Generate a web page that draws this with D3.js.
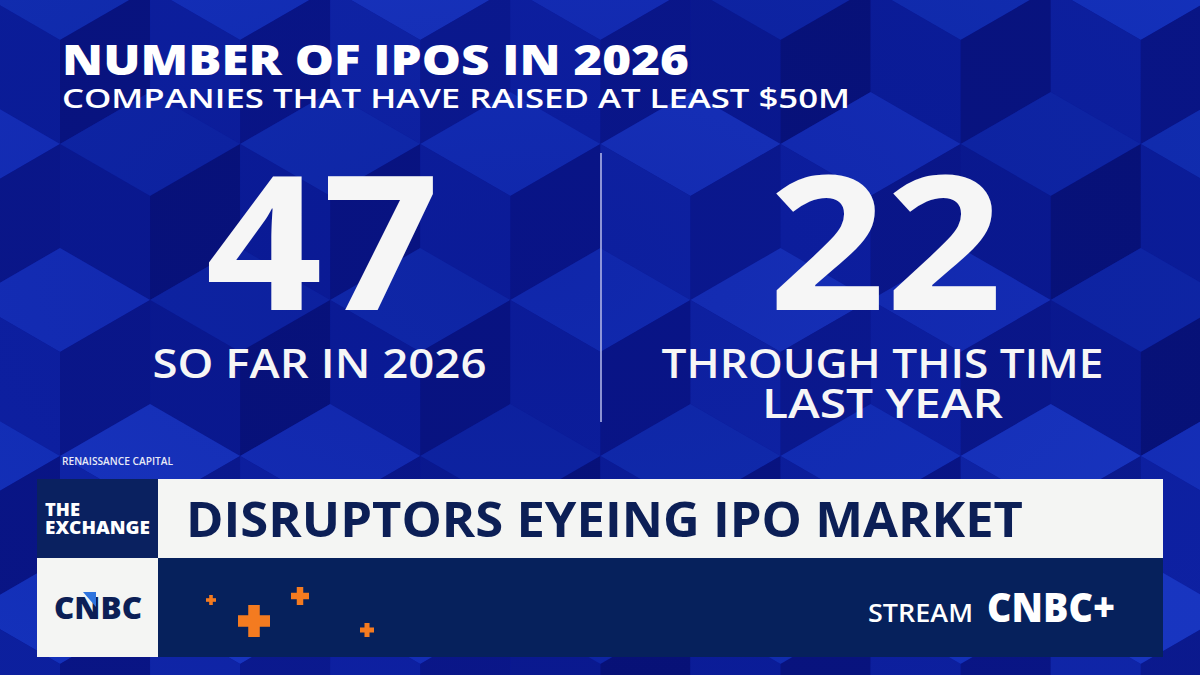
<!DOCTYPE html>
<html>
<head>
<meta charset="utf-8">
<script src="https://cdn.jsdelivr.net/npm/d3@7"></script>
<style>
  html, body { margin: 0; padding: 0; background: #0b1a9c; overflow: hidden; }
  svg { display: block; }
</style>
</head>
<body>
<svg id="chart" width="1200" height="675"></svg>
<script>
// ---------- DATA ----------
const categories = ["SO FAR IN 2026", "THROUGH THIS TIME LAST YEAR"];
const values = [47, 22];
const labelLines = [["SO FAR IN 2026"], ["THROUGH THIS TIME", "LAST YEAR"]];
const title = "NUMBER OF IPOS IN 2026";
const subtitle = "COMPANIES THAT HAVE RAISED AT LEAST $50M";
const source = "RENAISSANCE CAPITAL";
const showName = ["THE", "EXCHANGE"];
const headline = "DISRUPTORS EYEING IPO MARKET";

// ---------- SETUP ----------
const W = 1200, H = 675;
const svg = d3.select("#chart");
const FONT = "'Open Sans', 'Noto Sans', sans-serif";

function fitText(sel, width) {
  sel.attr("textLength", width).attr("lengthAdjust", "spacingAndGlyphs");
  return sel;
}

// ---------- BACKGROUND (decorative isometric cubes) ----------
const defs = svg.append("defs");
const bgGrad = defs.append("linearGradient").attr("id", "bg").attr("x1", 0).attr("y1", 0).attr("x2", 1).attr("y2", 1);
bgGrad.append("stop").attr("offset", "0%").attr("stop-color", "#0c1ea6");
bgGrad.append("stop").attr("offset", "50%").attr("stop-color", "#0a1896");
bgGrad.append("stop").attr("offset", "100%").attr("stop-color", "#0d22ad");
svg.append("rect").attr("width", W).attr("height", H).attr("fill", "url(#bg)");

const S = 104, hw = S * Math.sqrt(3) / 2;
const cubes = [];
for (let r = -1; r < 7; r++) {
  for (let c = -1; c < 8; c++) {
    const cx = c * 2 * hw + (r % 2 ? hw : 0) + 60;
    const cy = r * 1.5 * S + 40;
    const k = ((r * 7 + c * 3 + 11) % 5 + 5) % 5; // deterministic shade index
    cubes.push({cx, cy, k});
  }
}
const topC = ["#1632bd", "#1230b4", "#1a39c6", "#0f28a8", "#1534bf"];
const leftC = ["#0e22a4", "#0b1e9a", "#1027aa", "#0a1a90", "#0d21a0"];
const rightC = ["#0a1788", "#08137c", "#0b1a8e", "#071174", "#091584"];
const cubeG = svg.append("g");
cubes.forEach(d => {
  const {cx, cy, k} = d;
  const top = [[cx, cy - S], [cx + hw, cy - S / 2], [cx, cy], [cx - hw, cy - S / 2]];
  const left = [[cx - hw, cy - S / 2], [cx, cy], [cx, cy + S], [cx - hw, cy + S / 2]];
  const right = [[cx, cy], [cx + hw, cy - S / 2], [cx + hw, cy + S / 2], [cx, cy + S]];
  cubeG.append("polygon").attr("points", top.join(" ")).attr("fill", topC[k]);
  cubeG.append("polygon").attr("points", left.join(" ")).attr("fill", leftC[k]);
  cubeG.append("polygon").attr("points", right.join(" ")).attr("fill", rightC[k]);
});
const ov = defs.append("radialGradient").attr("id", "ov").attr("cx", "45%").attr("cy", "40%").attr("r", "70%");
ov.append("stop").attr("offset", "0%").attr("stop-color", "#08128a").attr("stop-opacity", 0.4);
ov.append("stop").attr("offset", "100%").attr("stop-color", "#08128a").attr("stop-opacity", 0.1);
svg.append("rect").attr("width", W).attr("height", H).attr("fill", "url(#ov)");

// ---------- TITLES ----------
fitText(svg.append("text").attr("x", 62).attr("y", 75)
  .attr("font-family", FONT).attr("font-weight", 800).attr("font-size", 42)
  .attr("fill", "#ffffff").text(title), 627);
fitText(svg.append("text").attr("x", 62).attr("y", 108)
  .attr("font-family", FONT).attr("font-weight", 600).attr("font-size", 27)
  .attr("fill", "#ffffff").text(subtitle), 788);

// ---------- BIG NUMBERS ----------
const x = d3.scaleBand().domain(categories).range([38, 1164]).padding(0);
const g = svg.append("g");
const labelWidths = {"SO FAR IN 2026": 334, "THROUGH THIS TIME": 442, "LAST YEAR": 241};
categories.forEach((cat, i) => {
  const cx = x(cat) + x.bandwidth() / 2;
  fitText(g.append("text").attr("x", cx + 3).attr("y", 310)
    .attr("text-anchor", "middle")
    .attr("font-family", FONT).attr("font-weight", 700).attr("font-size", 186)
    .attr("fill", "#f6f6f6").text(values[i]), 234);
  labelLines[i].forEach((line, j) => {
    const t = g.append("text").attr("x", cx).attr("y", 378 + j * 40)
      .attr("text-anchor", "middle")
      .attr("font-family", FONT).attr("font-weight", 600).attr("font-size", 40)
      .attr("fill", "#f6f6f6").text(line);
    fitText(t, labelWidths[line]);
  });
});
const divX = x(categories[1]);
svg.append("line").attr("x1", divX).attr("x2", divX).attr("y1", 153).attr("y2", 422)
  .attr("stroke", "#aeb3e6").attr("stroke-width", 1.6);

// ---------- SOURCE ----------
fitText(svg.append("text").attr("x", 62).attr("y", 465)
  .attr("font-family", FONT).attr("font-weight", 600).attr("font-size", 10.5)
  .attr("fill", "#e8eaf6").text(source), 111);

// ---------- LOWER THIRD BANNER ----------
const ban = svg.append("g");
ban.append("rect").attr("x", 37).attr("y", 479).attr("width", 121).attr("height", 79).attr("fill", "#0a2160");
ban.append("rect").attr("x", 158).attr("y", 479).attr("width", 1005).attr("height", 79).attr("fill", "#f4f5f3");
ban.append("rect").attr("x", 37).attr("y", 558).attr("width", 121).attr("height", 99).attr("fill", "#f4f5f3");
ban.append("rect").attr("x", 158).attr("y", 558).attr("width", 1005).attr("height", 99).attr("fill", "#06215c");

fitText(ban.append("text").attr("x", 45).attr("y", 516)
  .attr("font-family", FONT).attr("font-weight", 800).attr("font-size", 17)
  .attr("fill", "#ffffff").text(showName[0]), 35);
fitText(ban.append("text").attr("x", 45).attr("y", 534)
  .attr("font-family", FONT).attr("font-weight", 800).attr("font-size", 17)
  .attr("fill", "#ffffff").text(showName[1]), 105);

fitText(ban.append("text").attr("x", 186).attr("y", 537)
  .attr("font-family", FONT).attr("font-weight", 700).attr("font-size", 49)
  .attr("fill", "#0c1f56").text(headline), 837);

fitText(ban.append("text").attr("x", 54).attr("y", 619)
  .attr("font-family", FONT).attr("font-weight", 800).attr("font-size", 30)
  .attr("fill", "#0c1f56").text("CNBC"), 88);
ban.append("polygon").attr("points", "83,592 96,592 96,607").attr("fill", "#2e74de");

const pluses = [{cx: 211, cy: 600, s: 10}, {cx: 254, cy: 621, s: 32}, {cx: 300, cy: 596, s: 18}, {cx: 367, cy: 630, s: 14}];
pluses.forEach(p => {
  const t = p.s * 0.36, h = p.s / 2;
  ban.append("rect").attr("x", p.cx - h).attr("y", p.cy - t / 2).attr("width", p.s).attr("height", t).attr("fill", "#f47b20");
  ban.append("rect").attr("x", p.cx - t / 2).attr("y", p.cy - h).attr("width", t).attr("height", p.s).attr("fill", "#f47b20");
});

fitText(ban.append("text").attr("x", 868).attr("y", 622)
  .attr("font-family", FONT).attr("font-weight", 600).attr("font-size", 25)
  .attr("fill", "#ffffff").text("STREAM"), 105);
fitText(ban.append("text").attr("x", 987).attr("y", 622)
  .attr("font-family", FONT).attr("font-weight", 800).attr("font-size", 40)
  .attr("fill", "#ffffff").text("CNBC+"), 128);
</script>
</body>
</html>
